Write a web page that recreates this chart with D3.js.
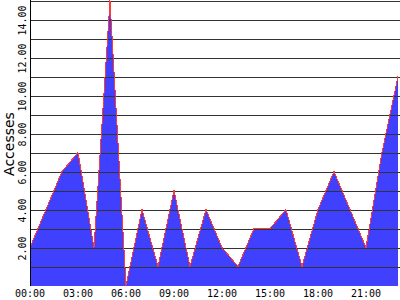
<!DOCTYPE html>
<html>
<head>
<meta charset="utf-8">
<script src="https://cdn.jsdelivr.net/npm/d3@7"></script>
<style>
  body { margin: 0; background: #fff; }
  svg { display: block; }
</style>
</head>
<body>
<svg id="chart" width="400" height="300"></svg>
<script>
// accesses per hour of the day
const hours = d3.range(0, 24);
const accesses = [2, 4, 6, 7, 2, 15, 0, 4, 1, 5, 1, 4, 2, 1, 3, 3, 4, 1, 4, 6, 4, 2, 7, 11];
const xTicks = [0, 3, 6, 9, 12, 15, 18, 21];
const xTickLabels = ["00:00", "03:00", "06:00", "09:00", "12:00", "15:00", "18:00", "21:00"];
const gridValues = d3.range(1, 16);
const yTicks = [2, 4, 6, 8, 10, 12, 14];
const yTitle = "Accesses";

const svg = d3.select("#chart");
const m = { left: 30, right: 2, top: 0.5, bottom: 14.5 };
const W = +svg.attr("width"), H = +svg.attr("height");

const x = d3.scaleLinear().domain([0, 23]).range([m.left, W - m.right]);
const y = d3.scaleLinear().domain([0, 15]).range([H - m.bottom, m.top]);

const mono = "'DejaVu Sans Mono', 'Liberation Mono', monospace";

// filled area
const area = d3.area()
    .x((d, i) => x(hours[i]))
    .y0(y(0) + 0.5)
    .y1(d => y(d));

svg.append("path")
    .datum(accesses)
    .attr("d", area)
    .attr("fill", "#4040ff")
    .attr("shape-rendering", "crispEdges");

// horizontal grid lines, drawn over the fill
const grid = svg.append("g")
    .attr("transform", `translate(${m.left},0)`)
    .call(d3.axisRight(y).tickValues(gridValues).tickSize(W - m.left).tickFormat(""));
grid.select(".domain").remove();
grid.selectAll(".tick line")
    .attr("stroke", "#333")
    .attr("shape-rendering", "crispEdges");

// outline
const line = d3.line()
    .x((d, i) => x(hours[i]))
    .y(d => y(d));

svg.append("path")
    .datum(accesses)
    .attr("d", line)
    .attr("fill", "none")
    .attr("stroke", "#ff3838")
    .attr("stroke-width", 1)
    .attr("shape-rendering", "crispEdges");

// left axis line
svg.append("line")
    .attr("x1", m.left + 0.5).attr("x2", m.left + 0.5)
    .attr("y1", 0).attr("y2", y(0) + 0.5)
    .attr("stroke", "#000")
    .attr("shape-rendering", "crispEdges");

// y tick labels, rotated
svg.append("g")
    .selectAll("text")
    .data(yTicks)
    .join("text")
    .attr("transform", d => `translate(26,${y(d) + 1}) rotate(-90)`)
    .attr("text-anchor", "middle")
    .attr("font-family", mono)
    .attr("font-size", 10)
    .attr("fill", "#000")
    .text(d => d.toFixed(2));

// x axis labels
const xAxis = svg.append("g")
    .attr("transform", `translate(-0.5,${y(0)})`)
    .call(d3.axisBottom(x).tickValues(xTicks).tickSize(0).tickPadding(4)
        .tickFormat((d, i) => xTickLabels[i]));
xAxis.select(".domain").remove();
xAxis.selectAll("text")
    .attr("font-family", mono)
    .attr("font-size", 10)
    .attr("fill", "#000");

// y title
svg.append("text")
    .attr("transform", `translate(14,${(y(0) + y(15)) / 2 + 1}) rotate(-90)`)
    .attr("text-anchor", "middle")
    .attr("font-family", "'DejaVu Sans', sans-serif")
    .attr("font-size", 14)
    .attr("fill", "#000")
    .text(yTitle);
</script>
</body>
</html>
